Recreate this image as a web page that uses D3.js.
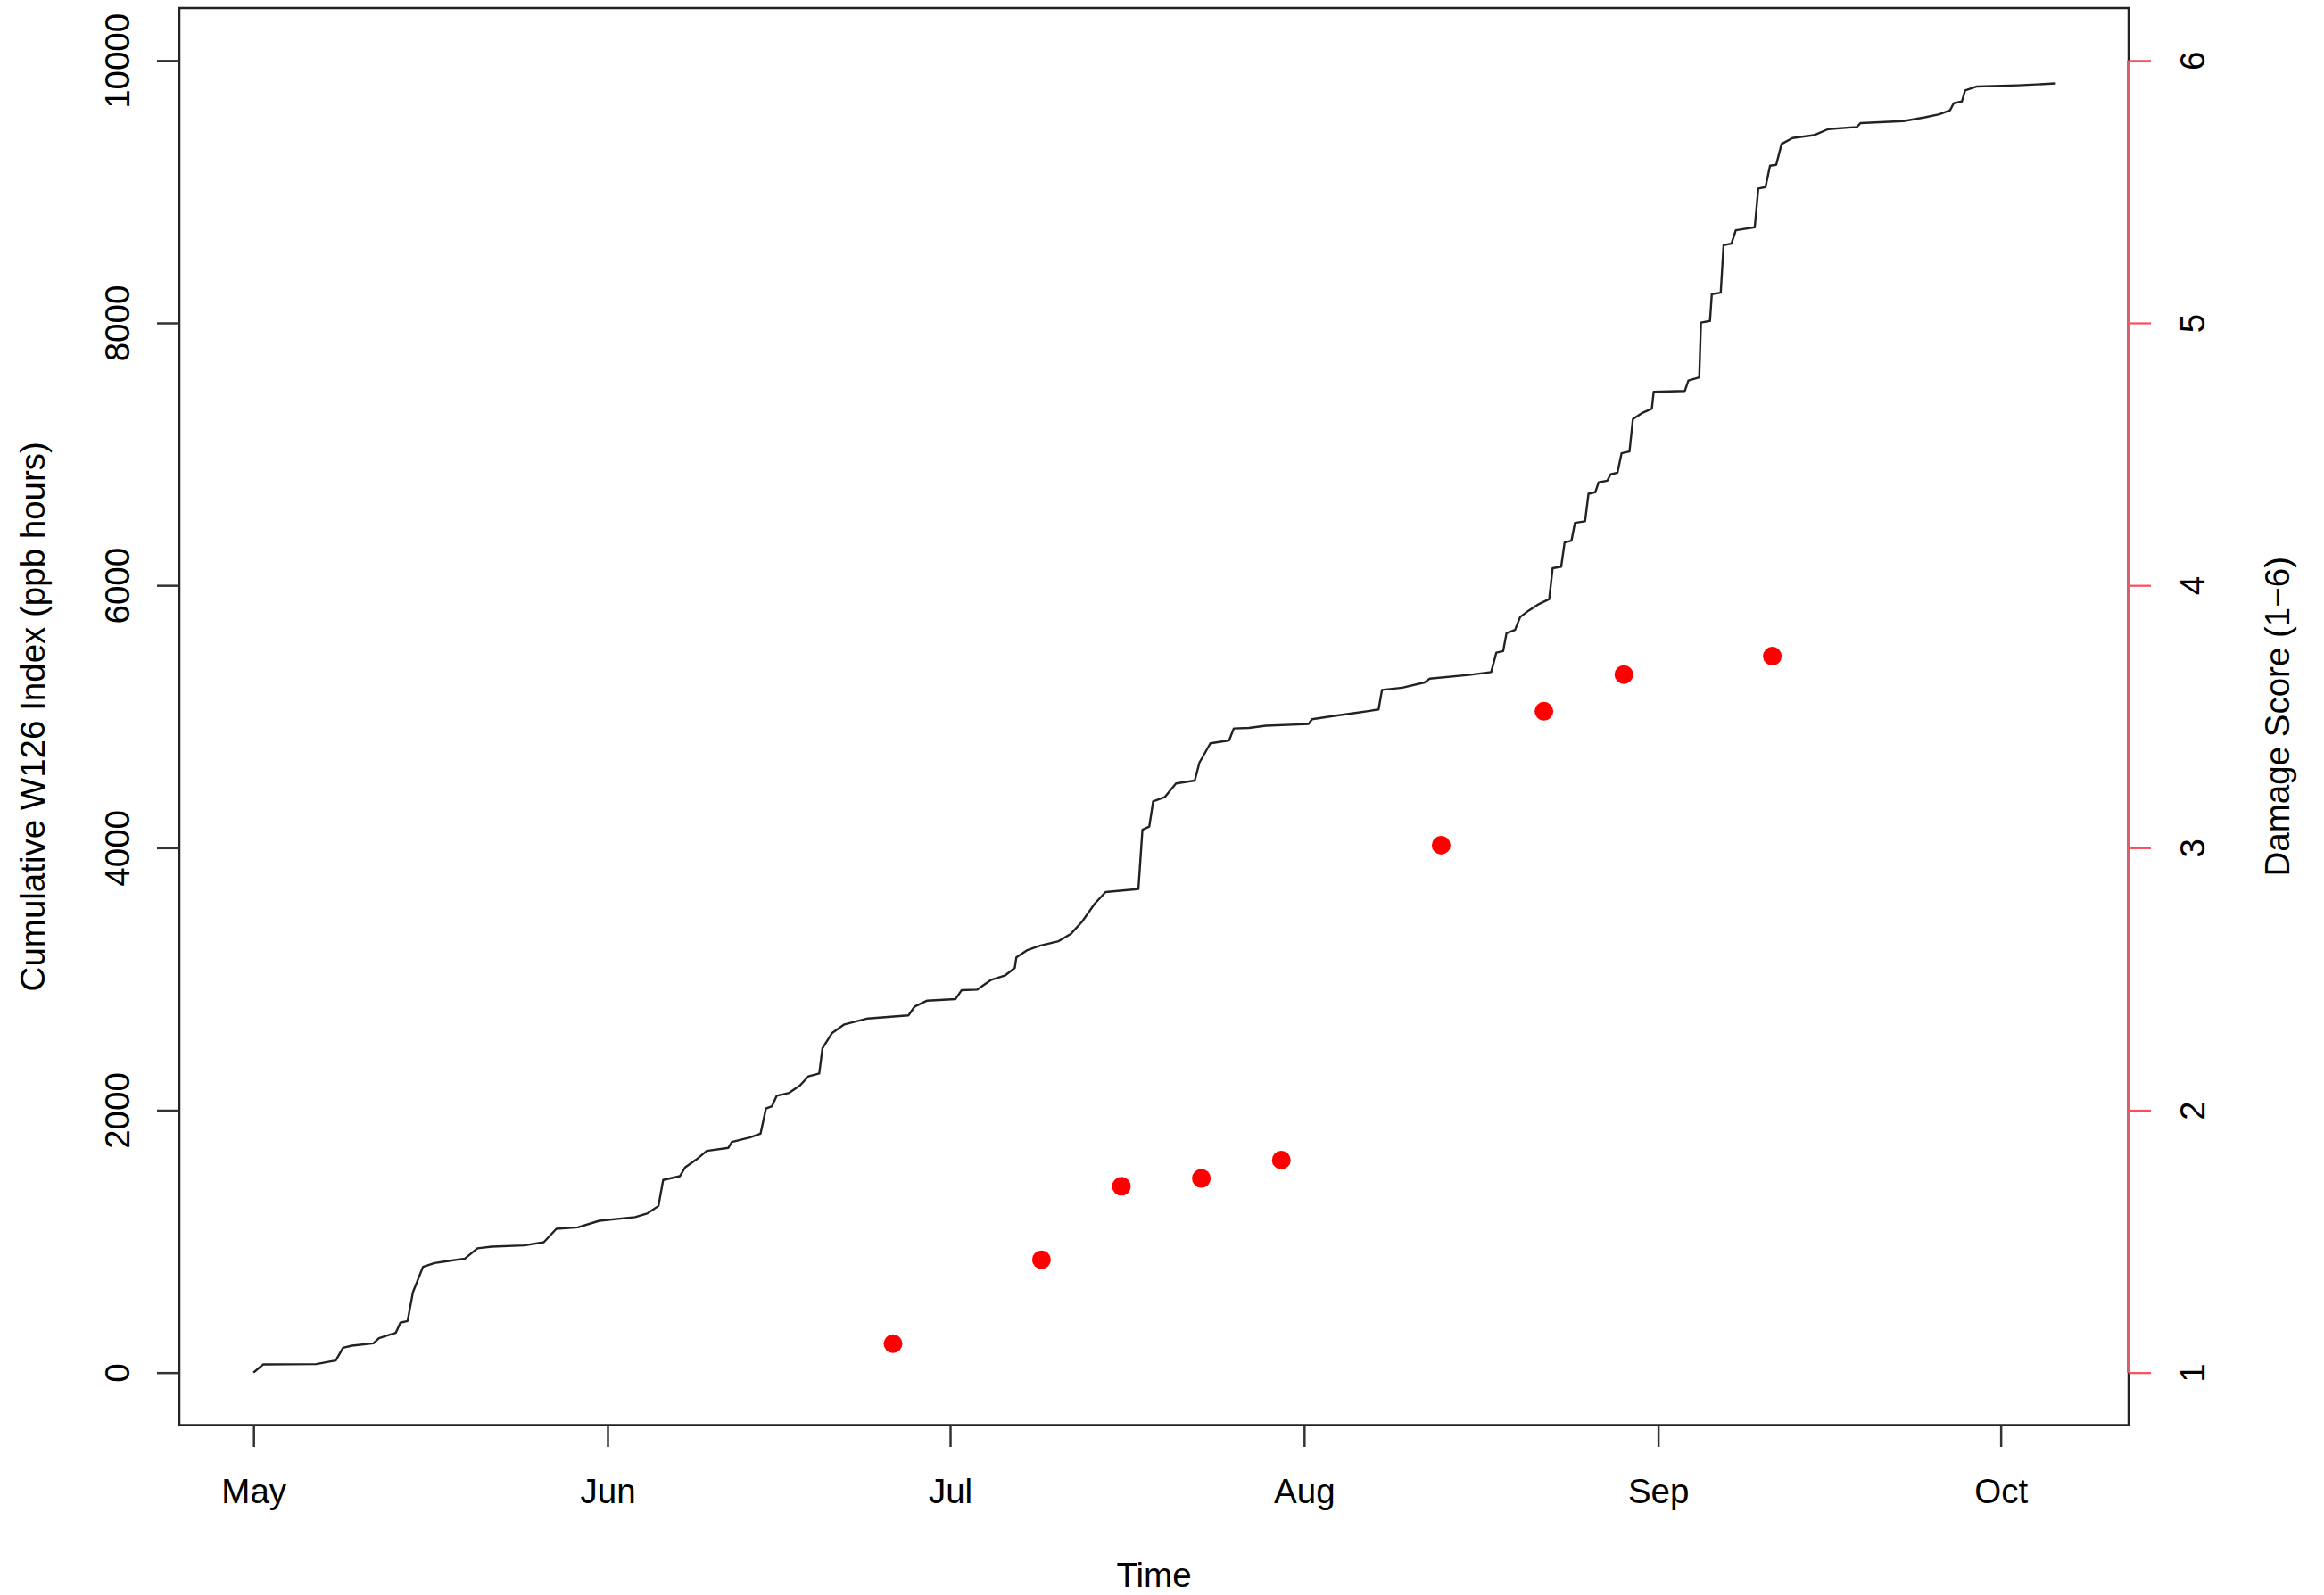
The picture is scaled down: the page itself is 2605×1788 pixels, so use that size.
<!DOCTYPE html>
<html>
<head>
<meta charset="utf-8">
<script src="https://cdn.jsdelivr.net/npm/d3@7"></script>
<style>
  html, body { margin: 0; padding: 0; background: #fff; }
  svg text { font-family: "Liberation Sans", Arial, Helvetica, sans-serif; font-size: 38.5px; fill: #000; }
</style>
</head>
<body>
<script>
// cumulative W126 trace (days after 1 May)
const w126Days = [0, 0.47, 0.84, 5.49, 6.43, 7.2, 7.84, 8.62, 10.51, 10.98, 11.76, 12.46, 12.86, 13.49,
  13.96, 14.84, 15.85, 17.1, 18.51, 19.61, 20.86, 23.69, 25.42, 26.52, 28.4, 30.28, 33.42, 34.52,
  35.46, 35.87, 37.34, 37.81, 38.75, 39.69, 41.58, 41.89, 43.46, 44.4, 44.87, 45.4, 45.82, 46.91,
  47.86, 48.58, 49.54, 49.82, 50.64, 51.74, 53.79, 57.35, 57.9, 58.99, 61.46, 62.0, 63.38, 64.61,
  65.84, 66.66, 66.8, 67.76, 68.86, 70.5, 71.59, 72.55, 73.65, 74.61, 77.49, 77.84, 78.44, 78.78,
  79.82, 80.78, 82.42, 82.83, 83.79, 85.43, 85.84, 87.16, 88.65, 92.39, 92.69, 94.63, 97.62, 98.52,
  98.82, 100.6, 102.55, 103.0, 106.59, 108.38, 108.83, 109.43, 109.72, 110.47, 110.92, 111.67,
  112.57, 113.46, 113.76, 114.51, 114.81, 115.41, 115.71, 116.6, 116.9, 117.5, 117.79, 118.54,
  118.84, 119.44, 119.8, 120.49, 120.79, 121.57, 122.45, 122.61, 125.34, 125.65, 126.6, 126.75,
  127.54, 127.7, 128.48, 128.73, 129.42, 129.8, 131.46, 131.77, 132.4, 132.8, 133.34, 133.81,
  134.76, 136.64, 137.89, 140.4, 140.72, 144.48, 146.36, 147.62, 148.56, 148.88, 149.6, 149.88,
  150.92, 154.53, 157.82];
const w126Values = [0, 35, 62, 65, 80, 92, 189, 205, 223, 262, 284, 303, 380, 393,
  613, 806, 835, 851, 869, 947, 960, 969, 994, 1096, 1107, 1157, 1185, 1214,
  1270, 1468, 1497, 1565, 1622, 1690, 1713, 1758, 1792, 1821, 2012, 2030, 2110, 2132,
  2189, 2257, 2280, 2472, 2586, 2654, 2699, 2722, 2790, 2835, 2846, 2914, 2919, 2994,
  3028, 3084, 3164, 3220, 3254, 3288, 3345, 3436, 3572, 3662, 3685, 4138, 4161, 4354,
  4388, 4490, 4512, 4648, 4796, 4818, 4909, 4913, 4930, 4943, 4980, 5005, 5042, 5054,
  5203, 5220, 5260, 5289, 5319, 5339, 5487, 5499, 5635, 5660, 5759, 5808,
  5858, 5895, 6130, 6142, 6327, 6340, 6476, 6488, 6698, 6710, 6785, 6797,
  6846, 6859, 7007, 7020, 7267, 7312, 7346, 7475, 7482, 7561, 7584, 8003,
  8015, 8219, 8230, 8593, 8604, 8706, 8729, 9024, 9035, 9198, 9205, 9364,
  9409, 9431, 9477, 9493, 9523, 9538, 9567, 9590, 9620, 9674, 9688, 9772,
  9802, 9811, 9825];

// damage survey dates and mean scores
const damageDays = [56, 69, 76, 83, 90, 104, 113, 120, 133];
const damageScores = [1.11, 1.43, 1.71, 1.74, 1.81, 3.01, 3.52, 3.66, 3.73];

const w126Ticks = [0, 2000, 4000, 6000, 8000, 10000];
const damageTicks = [1, 2, 3, 4, 5, 6];

const seasonStart = Date.UTC(2011, 4, 1);
const toDate = d => new Date(seasonStart + d * 864e5);

class DualAxisChart {
    constructor(width, height){
        this.width = width;
        this.height = height;
        this.box = { left: 201, right: 2386, top: 9, bottom: 1597.5 };

        this.createSvg();
        this.createScales();

        this.drawLine();
        this.drawBox();
        this.drawAxes();
        this.drawPoints();
        this.drawTitles();
    }

    createSvg(){
        this.svg = d3.select("body")
            .append("svg")
            .attr("width", this.width)
            .attr("height", this.height);

        this.svg.append("rect")
            .attr("width", this.width)
            .attr("height", this.height)
            .attr("fill", "#fff");
    }

    createScales(){
        let b = this.box;
        this.x = d3.scaleUtc()
            .domain([toDate(-6.5), toDate(164.2)])
            .range([b.left, b.right]);
        this.yLeft = d3.scaleLinear()
            .domain([-400, 10400])
            .range([b.bottom, b.top]);
        this.yRight = d3.scaleLinear()
            .domain([0.8, 6.2])
            .range([b.bottom, b.top]);
    }

    drawLine(){
        let data = w126Days.map((d, i) => ({ date: toDate(d), value: w126Values[i] }));
        let line = d3.line()
            .x(d => this.x(d.date))
            .y(d => this.yLeft(d.value));

        this.svg.append("path")
            .datum(data)
            .attr("d", line)
            .attr("fill", "none")
            .attr("stroke", "#222")
            .attr("stroke-width", 2.4)
            .attr("stroke-linejoin", "round");
    }

    drawBox(){
        let b = this.box;
        this.svg.append("rect")
            .attr("x", b.left)
            .attr("y", b.top)
            .attr("width", b.right - b.left)
            .attr("height", b.bottom - b.top)
            .attr("fill", "none")
            .attr("stroke", "#222")
            .attr("stroke-width", 2.5);
    }

    drawAxes(){
        let b = this.box;

        let left = this.svg.append("g")
            .attr("transform", `translate(${b.left},0)`)
            .call(d3.axisLeft(this.yLeft).tickValues(w126Ticks).tickSize(25).tickFormat(d3.format("d")));
        left.select(".domain").remove();
        left.selectAll(".tick line").attr("stroke", "#333").attr("stroke-width", 2.5);
        left.selectAll(".tick text")
            .attr("transform", "rotate(-90)")
            .attr("x", 0).attr("y", -56.5).attr("dy", 0)
            .attr("text-anchor", "middle");

        let bottom = this.svg.append("g")
            .attr("transform", `translate(0,${b.bottom})`)
            .call(d3.axisBottom(this.x).ticks(d3.utcMonth.every(1)).tickSize(24.5).tickFormat(d3.utcFormat("%b")));
        bottom.select(".domain").remove();
        bottom.selectAll(".tick line").attr("stroke", "#333").attr("stroke-width", 2.5);
        bottom.selectAll(".tick text").attr("y", 87.5).attr("dy", 0);

        let right = this.svg.append("g")
            .attr("transform", `translate(${b.right},0)`)
            .call(d3.axisRight(this.yRight).tickValues(damageTicks).tickSize(25).tickFormat(d3.format("d")));
        right.select(".domain").remove();
        right.append("line")
            .attr("y1", this.yRight(damageTicks[0]))
            .attr("y2", this.yRight(damageTicks[damageTicks.length - 1]))
            .attr("stroke", "#d6606c")
            .attr("stroke-width", 4);
        right.selectAll(".tick line").attr("stroke", "#ff4a5a").attr("stroke-width", 2.2);
        right.selectAll(".tick text")
            .attr("transform", "rotate(-90)")
            .attr("x", 0).attr("y", 85).attr("dy", 0)
            .attr("text-anchor", "middle");
    }

    drawPoints(){
        let data = damageDays.map((d, i) => ({ date: toDate(d), score: damageScores[i] }));
        this.svg.append("g")
            .selectAll("circle")
            .data(data)
            .enter().append("circle")
            .attr("cx", d => this.x(d.date))
            .attr("cy", d => this.yRight(d.score))
            .attr("r", 10.5)
            .attr("fill", "#ff0000");
    }

    drawTitles(){
        let b = this.box;
        let midY = (b.top + b.bottom) / 2;

        this.svg.append("text")
            .attr("x", (b.left + b.right) / 2)
            .attr("y", 1779)
            .attr("text-anchor", "middle")
            .text("Time");

        this.svg.append("text")
            .attr("transform", `translate(50,${midY}) rotate(-90)`)
            .attr("text-anchor", "middle")
            .text("Cumulative W126 Index (ppb hours)");

        this.svg.append("text")
            .attr("transform", `translate(2566,${midY}) rotate(-90)`)
            .attr("text-anchor", "middle")
            .text("Damage Score (1\u22126)");
    }
}

new DualAxisChart(2605, 1788);
</script>
</body>
</html>
